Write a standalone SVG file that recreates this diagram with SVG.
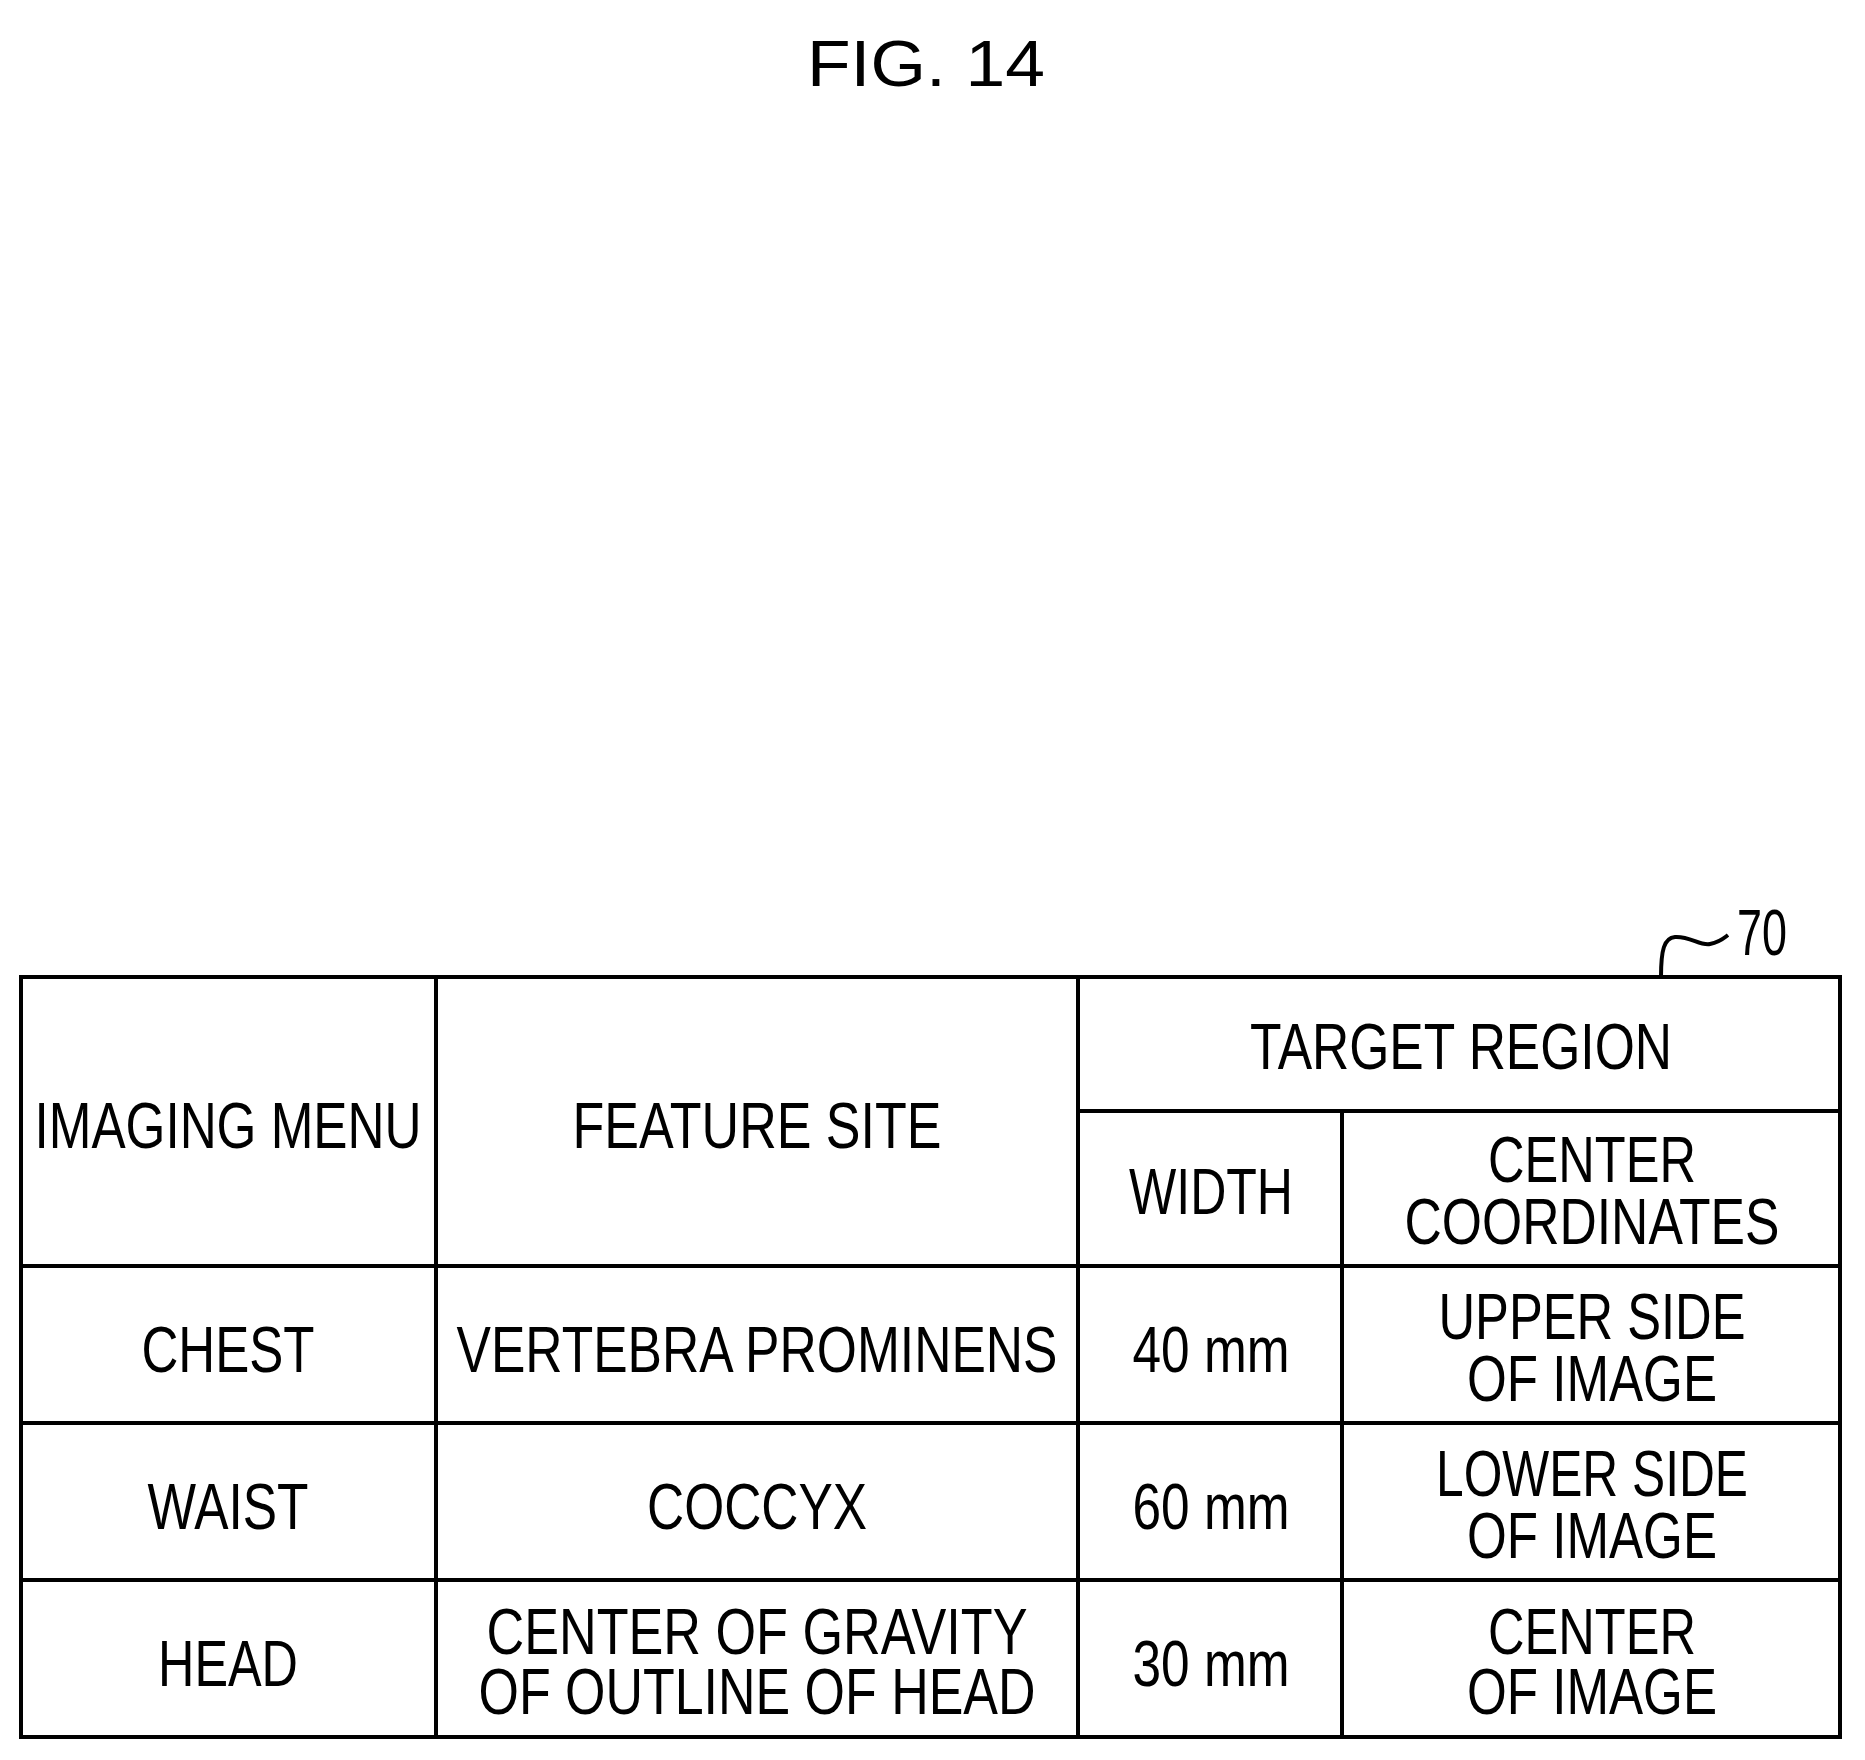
<svg xmlns="http://www.w3.org/2000/svg" width="1865" height="1760" viewBox="0 0 1865 1760">
<style>
text{font-family:"Liberation Sans",Arial,sans-serif;font-size:64px;fill:#000;text-anchor:middle}
.l{stroke:#000;stroke-width:4;fill:none}
</style>
<rect width="1865" height="1760" fill="#fff"/>
<text x="926" y="86" font-size="86" textLength="238" lengthAdjust="spacingAndGlyphs">FIG. 14</text>
<g id="label70">
<path class="l" d="M1661,977 C1661,950 1664,938 1675,937 C1690,936 1700,946 1710,944 C1720,942 1724,938 1728,935"/>
<text x="1762" y="955" font-size="62" textLength="50" lengthAdjust="spacingAndGlyphs">70</text>
</g>
<g id="table" class="l">
<rect x="21" y="977" width="1819" height="760"/>
<line x1="21" y1="1266" x2="1840" y2="1266"/>
<line x1="21" y1="1423" x2="1840" y2="1423"/>
<line x1="21" y1="1580" x2="1840" y2="1580"/>
<line x1="1078" y1="1111" x2="1840" y2="1111"/>
<line x1="436" y1="977" x2="436" y2="1737"/>
<line x1="1078" y1="977" x2="1078" y2="1737"/>
<line x1="1342" y1="1111" x2="1342" y2="1737"/>
</g>
<g id="texts">
<text x="228" y="1148" textLength="387" lengthAdjust="spacingAndGlyphs">IMAGING MENU</text>
<text x="757" y="1148" textLength="369" lengthAdjust="spacingAndGlyphs">FEATURE SITE</text>
<text x="1461" y="1069" textLength="422" lengthAdjust="spacingAndGlyphs">TARGET REGION</text>
<text x="1211" y="1214" textLength="164" lengthAdjust="spacingAndGlyphs">WIDTH</text>
<text x="1592" y="1182" textLength="208" lengthAdjust="spacingAndGlyphs">CENTER</text>
<text x="1592" y="1244" textLength="375" lengthAdjust="spacingAndGlyphs">COORDINATES</text>
<text x="228" y="1372" textLength="173" lengthAdjust="spacingAndGlyphs">CHEST</text>
<text x="757" y="1372" textLength="601" lengthAdjust="spacingAndGlyphs">VERTEBRA PROMINENS</text>
<text x="1211" y="1372" textLength="157" lengthAdjust="spacingAndGlyphs">40 mm</text>
<text x="1592" y="1339" textLength="307" lengthAdjust="spacingAndGlyphs">UPPER SIDE</text>
<text x="1592" y="1401" textLength="250" lengthAdjust="spacingAndGlyphs">OF IMAGE</text>
<text x="228" y="1529" textLength="161" lengthAdjust="spacingAndGlyphs">WAIST</text>
<text x="757" y="1529" textLength="220" lengthAdjust="spacingAndGlyphs">COCCYX</text>
<text x="1211" y="1529" textLength="157" lengthAdjust="spacingAndGlyphs">60 mm</text>
<text x="1592" y="1496" textLength="312" lengthAdjust="spacingAndGlyphs">LOWER SIDE</text>
<text x="1592" y="1558" textLength="250" lengthAdjust="spacingAndGlyphs">OF IMAGE</text>
<text x="228" y="1686" textLength="140" lengthAdjust="spacingAndGlyphs">HEAD</text>
<text x="757" y="1654" textLength="541" lengthAdjust="spacingAndGlyphs">CENTER OF GRAVITY</text>
<text x="757" y="1714" textLength="557" lengthAdjust="spacingAndGlyphs">OF OUTLINE OF HEAD</text>
<text x="1211" y="1686" textLength="157" lengthAdjust="spacingAndGlyphs">30 mm</text>
<text x="1592" y="1654" textLength="208" lengthAdjust="spacingAndGlyphs">CENTER</text>
<text x="1592" y="1714" textLength="250" lengthAdjust="spacingAndGlyphs">OF IMAGE</text>
</g>
</svg>
